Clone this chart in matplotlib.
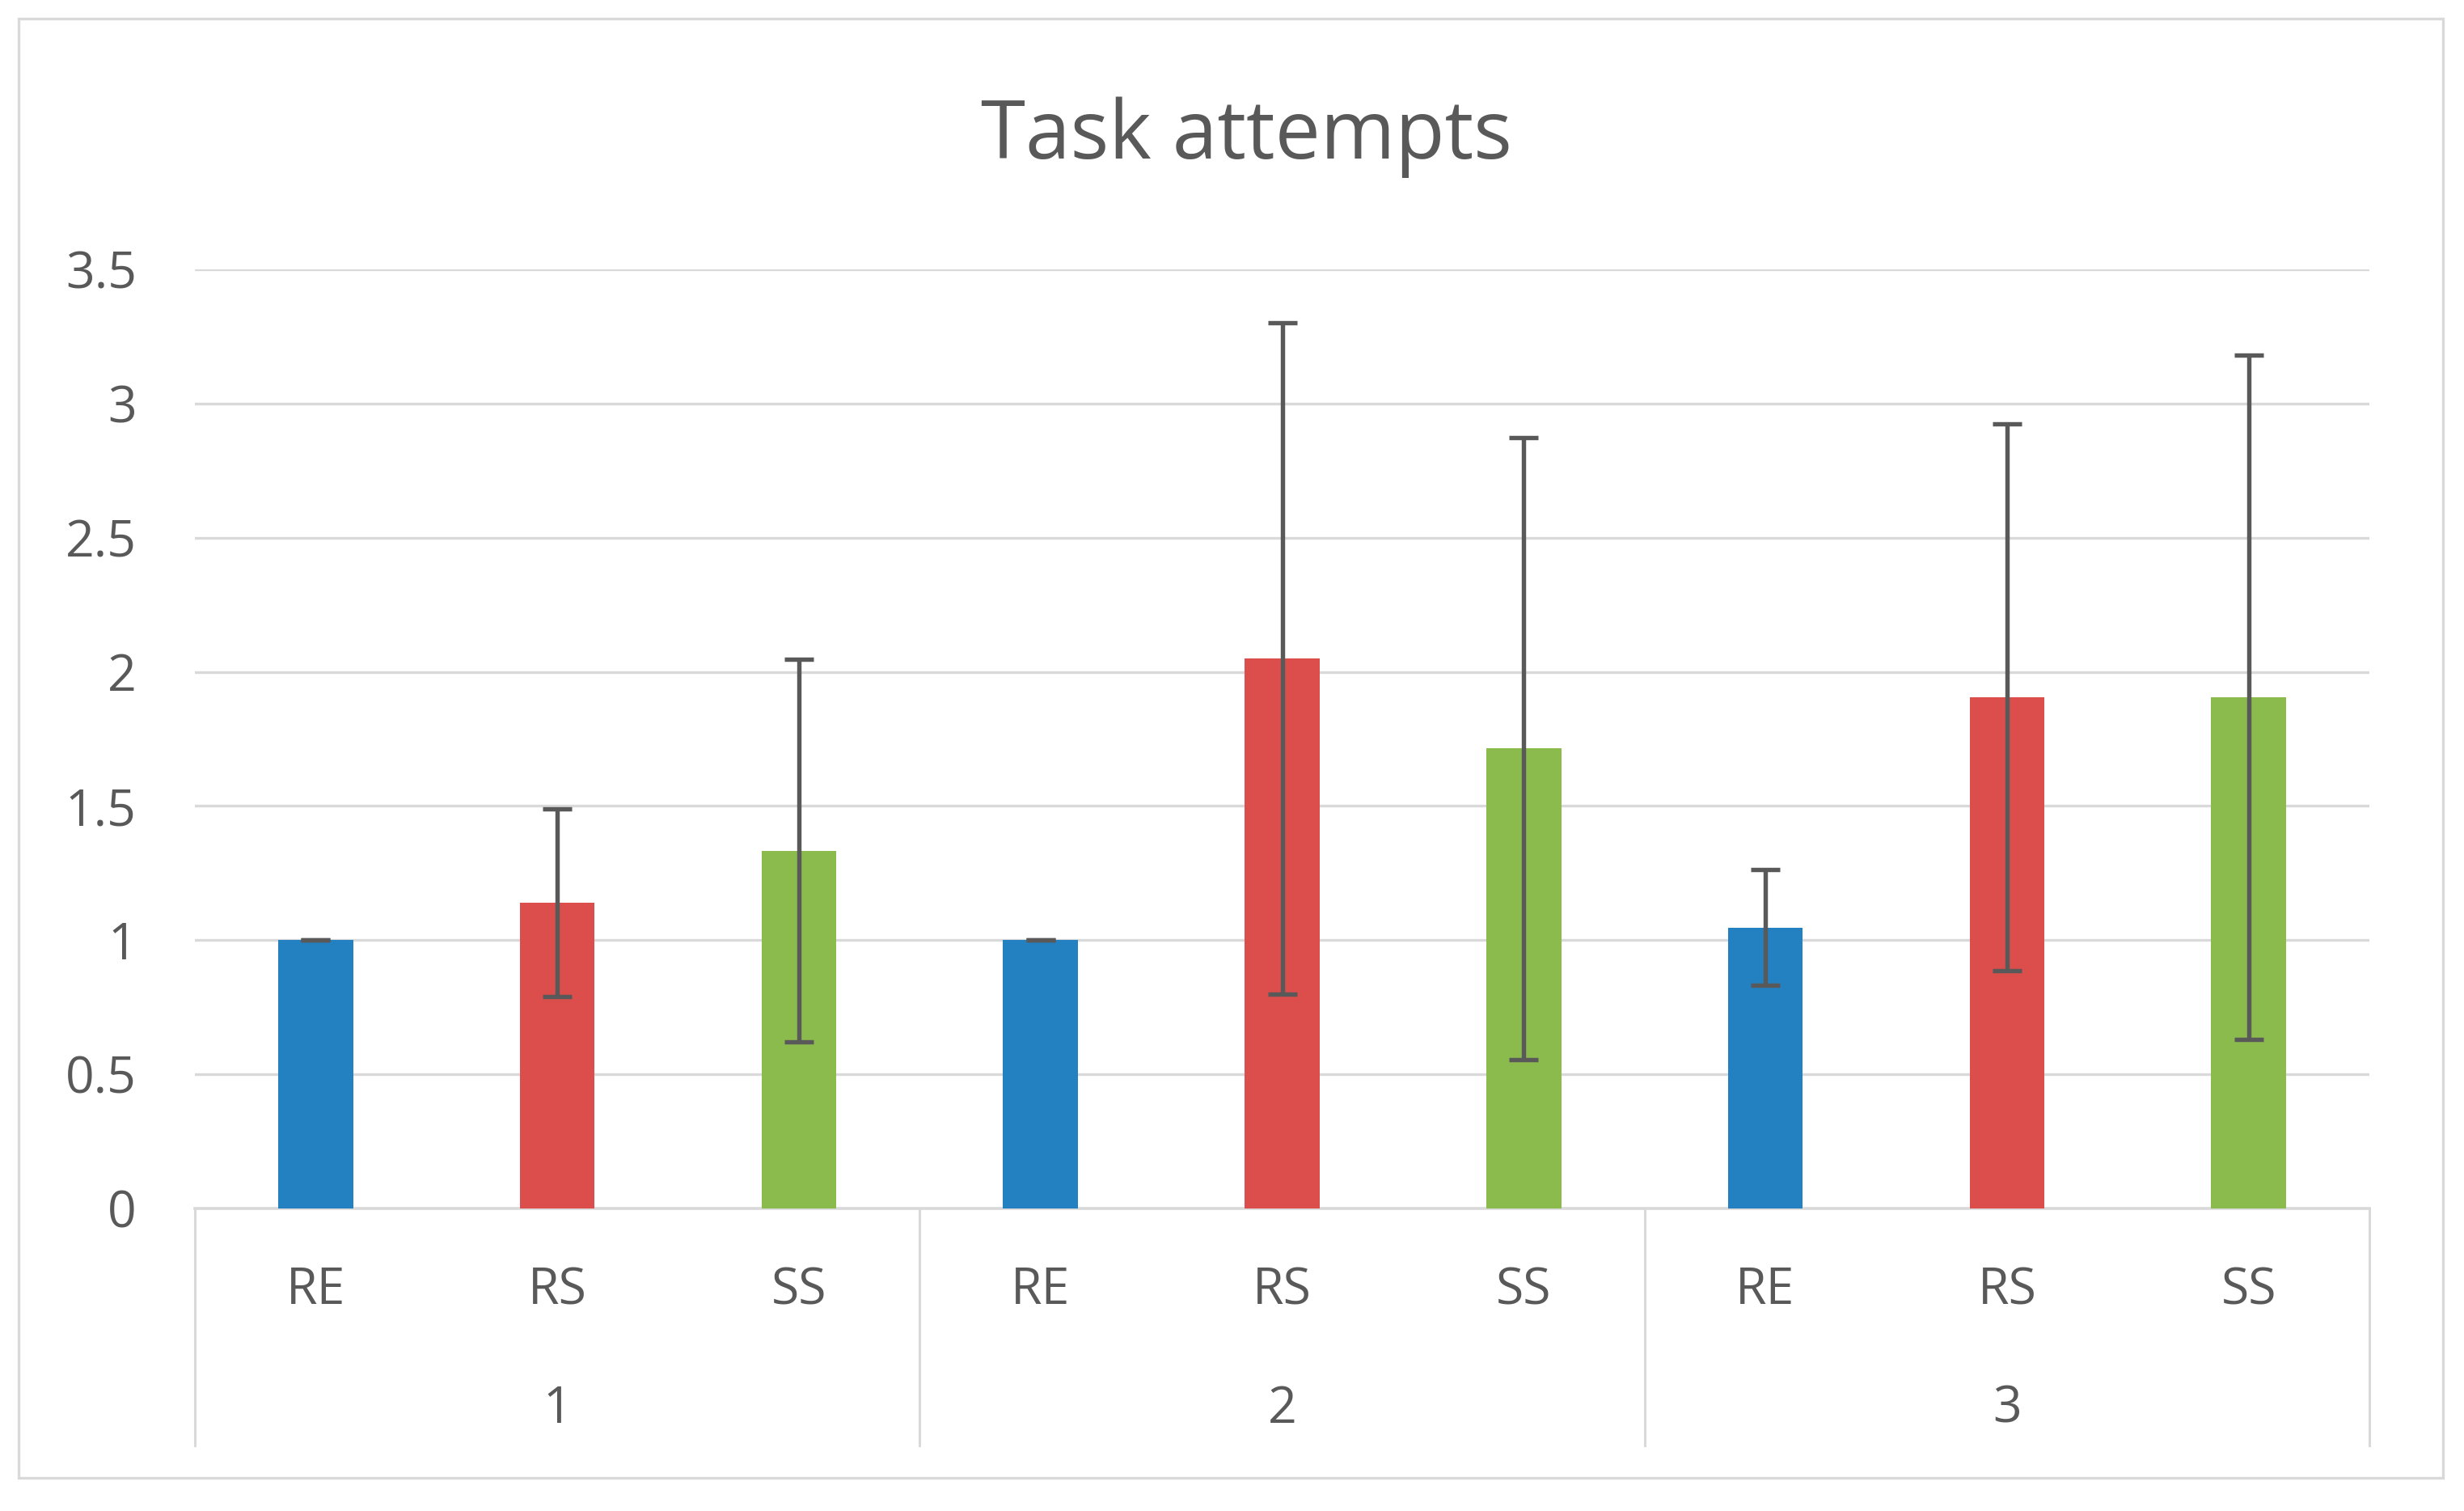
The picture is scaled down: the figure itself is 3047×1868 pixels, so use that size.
import matplotlib as mpl
mpl.use('Agg')

import matplotlib.pyplot as plt
import matplotlib.patches as mpatches
import matplotlib.transforms as mtransforms
import numpy as np

plt.rcParams['font.family'] = ['Open Sans', 'DejaVu Sans']

# data
groups     = ['1', '2', '3']
conditions = ['RE', 'RS', 'SS']
re_mean = [1.0, 1.0, 1.047]
re_err  = [0.0, 0.0, 0.215]
rs_mean = [1.14, 2.05, 1.905]
rs_err  = [0.35, 1.25, 1.02]
ss_mean = [1.333, 1.714, 1.905]
ss_err  = [0.713, 1.16, 1.275]

COLORS = {'RE': '#2481c1', 'RS': '#db4e4b', 'SS': '#8cbb4d'}
TEXT   = '#595959'
GRID   = '#d9d9d9'

W, H = 3047, 1868
fig = plt.figure(figsize=(W / 100., H / 100.), dpi=100)

# plot area in pixels
x0, x1 = 241, 2930
y_top, y_bot = 333, 1494
ax = fig.add_axes([x0 / W, (H - y_bot) / H, (x1 - x0) / W, (y_bot - y_top) / H])

series = [(re_mean, re_err), (rs_mean, rs_err), (ss_mean, ss_err)]
n_cond = len(conditions)
for gi in range(len(groups)):
  for ci, cond in enumerate(conditions):
    pos = gi * n_cond + ci + 0.5
    mean, err = series[ci][0][gi], series[ci][1][gi]
    ax.bar(pos, mean, width=0.31, color=COLORS[cond], zorder=2)
    ax.errorbar(pos, mean, yerr=err, fmt='none', ecolor=TEXT, elinewidth=3.9,
                capsize=13, capthick=3.9, zorder=3)

ax.set_xlim(0, len(groups) * n_cond)
ax.set_ylim(0, 3.5)
ticks = np.arange(0, 3.51, 0.5)
ax.set_yticks(ticks)
ax.set_yticklabels(['%g' % t for t in ticks])
ax.yaxis.grid(True, color=GRID, lw=2.4, zorder=0)
ax.set_axisbelow(True)
ax.tick_params(axis='y', length=0, pad=52, labelsize=45, labelcolor=TEXT)
ax.set_xticks([])
for side in ['left', 'right', 'top']:
  ax.spines[side].set_visible(False)
ax.spines['bottom'].set_color(GRID)
ax.spines['bottom'].set_linewidth(2.6)
ax.spines['bottom'].set_zorder(1)

# hierarchical category axis
trans = mtransforms.blended_transform_factory(ax.transData, ax.transAxes)
for k in range(len(groups) + 1):
  ax.plot([k * n_cond, k * n_cond], [0, -0.252], transform=trans, color=GRID,
          lw=2.2, clip_on=False)
for gi, g in enumerate(groups):
  for ci, cond in enumerate(conditions):
    ax.text(gi * n_cond + ci + 0.5, -0.088, cond, transform=trans, ha='center',
            va='center', fontsize=45, color=TEXT)
  ax.text(gi * n_cond + n_cond / 2., -0.214, g, transform=trans, ha='center',
          va='center', fontsize=45, color=TEXT)

fig.text(1541 / W, 1 - 170 / H, 'Task attempts', ha='center', va='center',
         fontsize=72, color=TEXT)

# chart border
fig.patches.append(mpatches.Rectangle((23 / W, 1 - 1827 / H), (3021 - 23) / W, (1827 - 23) / H,
                                      transform=fig.transFigure, fill=False,
                                      edgecolor=GRID, lw=2.4))

fig.savefig('out.png', dpi=100, facecolor='white')
